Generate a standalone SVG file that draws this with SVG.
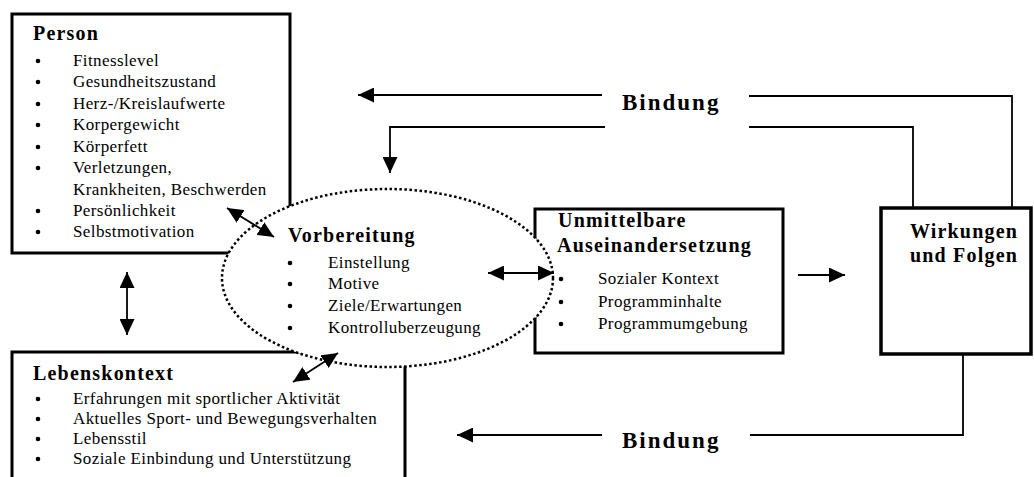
<svg xmlns="http://www.w3.org/2000/svg" width="1034" height="477" viewBox="0 0 1034 477">
<defs>
<style>
.box{fill:#fff;stroke:#000;stroke-width:3}
.h{font-family:"Liberation Serif","Times New Roman",serif;font-weight:bold;font-size:20px;letter-spacing:1.2px;fill:#000}
.t{font-family:"Liberation Serif","Times New Roman",serif;font-size:17px;letter-spacing:0.4px;fill:#000}
.b{font-family:"Liberation Serif","Times New Roman",serif;font-weight:bold;font-size:23px;letter-spacing:2px;fill:#000}
.c{fill:none;stroke:#000;stroke-width:1.8}
.dot{fill:#000}
</style>
<marker id="ah" viewBox="0 0 16 15" refX="16" refY="7.5" markerWidth="16" markerHeight="15" markerUnits="userSpaceOnUse" orient="auto-start-reverse">
<path d="M0,0 L16,7.5 L0,15 z" fill="#000"/>
</marker>
</defs>
<rect width="1034" height="477" fill="#fff"/>

<g id="person">
<rect class="box" x="12" y="14" width="278" height="239"/>
<text class="h" x="33" y="40">Person</text>
<g class="dot">
<circle cx="38" cy="61" r="2.3"/><circle cx="38" cy="82" r="2.3"/><circle cx="38" cy="104" r="2.3"/>
<circle cx="38" cy="125" r="2.3"/><circle cx="38" cy="147" r="2.3"/><circle cx="38" cy="168" r="2.3"/>
<circle cx="38" cy="211" r="2.3"/><circle cx="38" cy="232" r="2.3"/>
</g>
<text class="t" x="73" y="66">Fitnesslevel</text>
<text class="t" x="73" y="87">Gesundheitszustand</text>
<text class="t" x="73" y="109">Herz-/Kreislaufwerte</text>
<text class="t" x="73" y="130">Korpergewicht</text>
<text class="t" x="73" y="152">Körperfett</text>
<text class="t" x="73" y="173">Verletzungen,</text>
<text class="t" x="73" y="195">Krankheiten, Beschwerden</text>
<text class="t" x="73" y="216">Persönlichkeit</text>
<text class="t" x="73" y="237">Selbstmotivation</text>
</g>

<g id="lebenskontext">
<rect class="box" x="12" y="352" width="393" height="135"/>
<text class="h" x="33" y="380">Lebenskontext</text>
<g class="dot">
<circle cx="38" cy="399" r="2.3"/><circle cx="38" cy="419" r="2.3"/><circle cx="38" cy="439" r="2.3"/><circle cx="38" cy="459" r="2.3"/>
</g>
<text class="t" x="73" y="404">Erfahrungen mit sportlicher Aktivität</text>
<text class="t" x="73" y="424">Aktuelles Sport- und Bewegungsverhalten</text>
<text class="t" x="73" y="444">Lebensstil</text>
<text class="t" x="73" y="464">Soziale Einbindung und Unterstützung</text>
</g>

<g id="unmittelbare">
<rect class="box" x="535" y="209" width="248" height="144"/>
<text class="h" x="558" y="227">Unmittelbare</text>
<text class="h" x="557" y="252">Auseinandersetzung</text>
<g class="dot">
<circle cx="561" cy="279" r="2.3"/><circle cx="561" cy="302" r="2.3"/><circle cx="561" cy="324" r="2.3"/>
</g>
<text class="t" x="598" y="284">Sozialer Kontext</text>
<text class="t" x="598" y="307">Programminhalte</text>
<text class="t" x="598" y="329">Programmumgebung</text>
</g>

<g id="wirkungen">
<rect class="box" x="881" y="208" width="150" height="146" style="stroke-width:3.5"/>
<text class="h" x="964" y="238" text-anchor="middle">Wirkungen</text>
<text class="h" x="964" y="262" text-anchor="middle">und Folgen</text>
</g>

<g id="vorbereitung">
<ellipse cx="387.5" cy="278" rx="165.5" ry="89" fill="#fff" stroke="#000" stroke-width="2.5" stroke-dasharray="2.5 2.5"/>
<text class="h" x="288" y="242">Vorbereitung</text>
<g class="dot">
<circle cx="290" cy="263" r="2.3"/><circle cx="290" cy="284" r="2.3"/><circle cx="290" cy="306" r="2.3"/><circle cx="290" cy="328" r="2.3"/>
</g>
<text class="t" x="328" y="268">Einstellung</text>
<text class="t" x="328" y="289">Motive</text>
<text class="t" x="328" y="311">Ziele/Erwartungen</text>
<text class="t" x="328" y="333">Kontrolluberzeugung</text>
</g>

<g id="connectors">
<line class="c" x1="227" y1="208" x2="274" y2="237" marker-start="url(#ah)" marker-end="url(#ah)"/>
<line class="c" x1="127" y1="272" x2="127" y2="335" marker-start="url(#ah)" marker-end="url(#ah)"/>
<line class="c" x1="293" y1="382" x2="338" y2="353" marker-start="url(#ah)" marker-end="url(#ah)"/>
<line class="c" x1="488" y1="273" x2="554" y2="273" marker-start="url(#ah)" marker-end="url(#ah)"/>
<line class="c" x1="798" y1="275" x2="845" y2="275" marker-end="url(#ah)"/>
<polyline class="c" points="1012,208 1012,96 749,96"/>
<line class="c" x1="602" y1="95" x2="358" y2="95" marker-end="url(#ah)"/>
<polyline class="c" points="913,208 913,127 749,127"/>
<polyline class="c" points="605,127 390,127 390,173" marker-end="url(#ah)"/>
<polyline class="c" points="963,354 963,435 750,435"/>
<line class="c" x1="602" y1="435" x2="457" y2="435" marker-end="url(#ah)"/>
<text class="b" x="622" y="110">Bindung</text>
<text class="b" x="622" y="448">Bindung</text>
</g>
</svg>
